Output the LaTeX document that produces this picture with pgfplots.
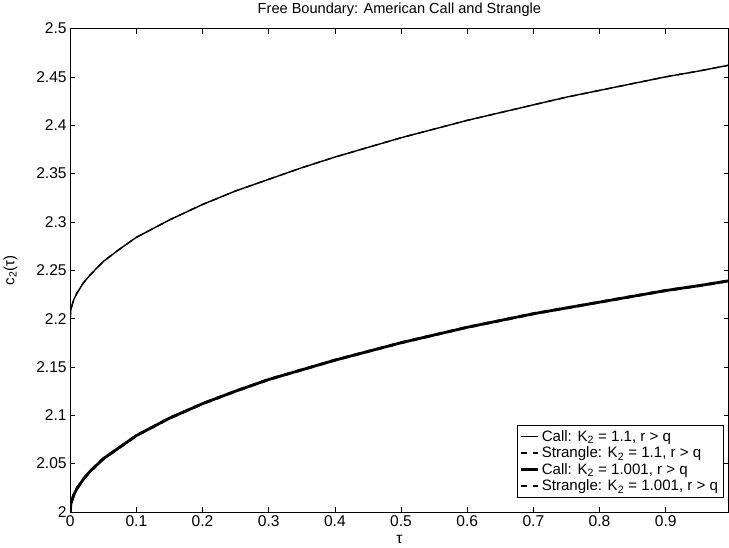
\documentclass[border=0pt]{standalone}
\usepackage{fontspec}
\setmainfont{Liberation Sans}
\usepackage{pgfplots}
\pgfplotsset{compat=1.18}

\begin{document}
\begin{tikzpicture}
\begin{axis}[
    scale only axis,
    width=655bp, height=481bp,
    xmin=0, xmax=0.995,
    ymin=2, ymax=2.5,
    xtick={0,0.1,...,0.9},
    ytick={2,2.05,...,2.5},
    yticklabels={2,2.05,2.1,2.15,2.2,2.25,2.3,2.35,2.4,2.45,2.5},
    xticklabels={0,0.1,0.2,0.3,0.4,0.5,0.6,0.7,0.8,0.9},
    tick align=inside,
    major tick length=5bp,
    axis line style={black, line width=0.8pt},
    tick style={black, line width=0.6pt},
    /pgf/number format/assume math mode=true,
    tick label style={font=\fontsize{15.5bp}{17bp}\selectfont},
    title={Free Boundary: American Call and Strangle},
    title style={font=\fontsize{14.5bp}{16bp}\selectfont, yshift=2bp},
    xlabel={τ},
    xlabel style={font=\fontsize{15.5bp}{17bp}\selectfont, yshift=-2bp},
    ylabel={c\textsubscript{2}(τ)},
    ylabel style={font=\fontsize{15bp}{17bp}\selectfont, yshift=12bp},
    legend style={font=\fontsize{15bp}{17bp}\selectfont, at={(rel axis cs:0.992,0.03)}, anchor=south east,
        draw=black, line width=0.6pt, row sep=0bp, inner sep=3bp},
    legend cell align=left,
]
% upper pair: K2 = 1.1
\addplot[black, line width=1.4pt] coordinates {
(0,2.200) (0.001,2.209) (0.005,2.219) (0.01,2.226) (0.02,2.237) (0.03,2.245)
(0.05,2.259) (0.075,2.272) (0.1,2.284) (0.15,2.302) (0.2,2.318) (0.25,2.332)
(0.3,2.344) (0.35,2.356) (0.4,2.367) (0.45,2.377) (0.5,2.387) (0.55,2.396)
(0.6,2.405) (0.65,2.413) (0.7,2.421) (0.75,2.429) (0.8,2.436) (0.85,2.443)
(0.9,2.450) (0.95,2.456) (0.995,2.462)
};
\addplot[black, line width=1.4pt, dash pattern=on 6bp off 6bp] coordinates {
(0,2.200) (0.001,2.209) (0.005,2.219) (0.01,2.226) (0.02,2.237) (0.03,2.245)
(0.05,2.259) (0.075,2.272) (0.1,2.284) (0.15,2.302) (0.2,2.318) (0.25,2.332)
(0.3,2.344) (0.35,2.356) (0.4,2.367) (0.45,2.377) (0.5,2.387) (0.55,2.396)
(0.6,2.405) (0.65,2.413) (0.7,2.421) (0.75,2.429) (0.8,2.436) (0.85,2.443)
(0.9,2.450) (0.95,2.456) (0.995,2.462)
};
% lower pair: K2 = 1.001
\addplot[black, line width=2.8pt] coordinates {
(0,2.000) (0.001,2.008) (0.005,2.017) (0.01,2.024) (0.02,2.034) (0.03,2.042)
(0.05,2.055) (0.075,2.067) (0.1,2.079) (0.15,2.097) (0.2,2.112) (0.25,2.125)
(0.3,2.137) (0.35,2.147) (0.4,2.157) (0.45,2.166) (0.5,2.175) (0.55,2.183)
(0.6,2.191) (0.65,2.198) (0.7,2.205) (0.75,2.211) (0.8,2.217) (0.85,2.223)
(0.9,2.229) (0.95,2.234) (0.995,2.239)
};
\addplot[black, line width=2.8pt, dash pattern=on 6bp off 6bp] coordinates {
(0,2.000) (0.001,2.008) (0.005,2.017) (0.01,2.024) (0.02,2.034) (0.03,2.042)
(0.05,2.055) (0.075,2.067) (0.1,2.079) (0.15,2.097) (0.2,2.112) (0.25,2.125)
(0.3,2.137) (0.35,2.147) (0.4,2.157) (0.45,2.166) (0.5,2.175) (0.55,2.183)
(0.6,2.191) (0.65,2.198) (0.7,2.205) (0.75,2.211) (0.8,2.217) (0.85,2.223)
(0.9,2.229) (0.95,2.234) (0.995,2.239)
};
\legend{Call: K\textsubscript{2} = 1.1{,} r > q,
        Strangle: K\textsubscript{2} = 1.1{,} r > q,
        Call: K\textsubscript{2} = 1.001{,} r > q,
        Strangle: K\textsubscript{2} = 1.001{,} r > q}
\end{axis}
\end{tikzpicture}
\end{document}
